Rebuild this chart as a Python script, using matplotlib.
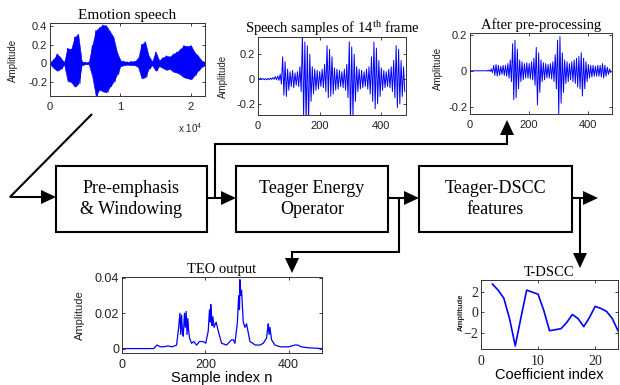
import matplotlib
matplotlib.use("Agg")
import matplotlib.pyplot as plt
from matplotlib.patches import Rectangle
import numpy as np

plt.rcParams.update({
    "font.family": "Liberation Sans",
    "mathtext.default": "regular",
})

# ─── Data ────────────────────────────────────────────────────────────────────

# Emotion speech: envelope every 500 samples
speech_n = np.arange(0, 22001, 500)
speech_up = [0.01, 0.04, 0.10, 0.06, 0.01, 0.16, 0.15, 0.28, 0.31, 0.02,
             0.01, 0.01, 0.19, 0.35, 0.38, 0.41, 0.40, 0.34, 0.28, 0.12,
             0.03, 0.02, 0.015, 0.02, 0.02, 0.05, 0.20, 0.23, 0.08, 0.02,
             0.12, 0.03, 0.06, 0.08, 0.07, 0.10, 0.12, 0.15, 0.19, 0.18,
             0.19, 0.12, 0.08, 0.03, 0.01]
speech_lo = [-0.01, -0.05, -0.08, -0.06, -0.01, -0.19, -0.20, -0.25, -0.22, -0.02,
             -0.01, -0.01, -0.14, -0.35, -0.28, -0.30, -0.31, -0.25, -0.20, -0.12,
             -0.03, -0.02, -0.015, -0.02, -0.02, -0.04, -0.16, -0.15, -0.06, -0.02,
             -0.08, -0.03, -0.05, -0.07, -0.06, -0.09, -0.10, -0.12, -0.15, -0.16,
             -0.17, -0.13, -0.08, -0.04, -0.02]

# 14th frame, raw and pre-processed: envelope every 8 samples (480 samples)
frame_n = np.arange(0, 480, 8)
frame_up = [0.006, 0.008, 0.005, 0.004, 0.006, 0.008, 0.012, 0.02,
            0.025, 0.04, 0.18, 0.14, 0.08, 0.06, 0.07, 0.05, 0.06, 0.10,
            0.36, 0.30, 0.27, 0.20, 0.10, 0.08, 0.07, 0.06, 0.08, 0.12,
            0.27, 0.24, 0.18, 0.09, 0.08, 0.07, 0.06, 0.08, 0.12, 0.30,
            0.26, 0.20, 0.10, 0.08, 0.07, 0.06, 0.08, 0.10, 0.18, 0.30,
            0.25, 0.15, 0.09, 0.07, 0.06, 0.08, 0.10, 0.15, 0.27, 0.24,
            0.15, 0.10]
frame_lo = [-0.004, -0.003, -0.005, -0.006, -0.004, -0.003, -0.002, -0.005,
            -0.01, -0.04, -0.13, -0.14, -0.09, -0.06, -0.07, -0.05, -0.06, -0.10,
            -0.30, -0.35, -0.35, -0.18, -0.12, -0.09, -0.08, -0.06, -0.07, -0.10,
            -0.15, -0.14, -0.12, -0.09, -0.08, -0.06, -0.07, -0.09, -0.15, -0.35,
            -0.30, -0.18, -0.10, -0.08, -0.07, -0.06, -0.08, -0.12, -0.18, -0.24,
            -0.20, -0.14, -0.09, -0.07, -0.06, -0.07, -0.10, -0.15, -0.23, -0.20,
            -0.14, -0.10]

pre_up = [0, 0, 0, 0, 0, 0, 0, 0.002, 0.004, 0.01,
          0.03, 0.035, 0.03, 0.025, 0.03, 0.03, 0.04, 0.06, 0.15, 0.17,
          0.12, 0.06, 0.05, 0.04, 0.045, 0.04, 0.05, 0.07, 0.13, 0.10,
          0.06, 0.045, 0.04, 0.035, 0.04, 0.05, 0.09, 0.17, 0.19, 0.10,
          0.06, 0.05, 0.04, 0.05, 0.06, 0.07, 0.08, 0.10, 0.07, 0.05,
          0.035, 0.03, 0.03, 0.025, 0.03, 0.03, 0.04, 0.03, 0.02, 0.01]
pre_lo = [0, 0, 0, 0, 0, 0, 0, -0.002, -0.004, -0.01,
          -0.025, -0.03, -0.025, -0.02, -0.025, -0.03, -0.04, -0.06, -0.16, -0.15,
          -0.10, -0.06, -0.05, -0.04, -0.04, -0.045, -0.05, -0.08, -0.19, -0.12,
          -0.06, -0.05, -0.04, -0.04, -0.045, -0.06, -0.10, -0.24, -0.18, -0.12,
          -0.07, -0.06, -0.05, -0.06, -0.07, -0.09, -0.10, -0.14, -0.10, -0.06,
          -0.04, -0.035, -0.03, -0.03, -0.03, -0.035, -0.04, -0.03, -0.02, -0.01]

# TEO output
teo_n = [0, 76, 84, 92, 100, 110, 120, 131, 136, 139, 141, 143, 145, 147,
         150, 152, 154, 156, 158, 160, 162, 167, 172, 179, 186, 195, 201,
         207, 210, 212, 213, 215, 216, 218, 221, 224, 226, 231, 239, 251,
         263, 267, 271, 277, 280, 282, 283, 285, 287, 291, 295, 299, 307,
         320, 331, 339, 347, 350, 351, 353, 355, 359, 367, 380, 400, 415,
         422, 430, 445, 480]
teo_v = [0, 0, 0.002, 0.001, 0.001, 0.0015, 0.001, 0.002, 0.012, 0.020,
         0.008, 0.019, 0.010, 0.007, 0.020, 0.012, 0.021, 0.008, 0.017, 0.010,
         0.006, 0.003, 0.004, 0.002, 0.004, 0.004, 0.003, 0.010, 0.022, 0.015,
         0.025, 0.018, 0.013, 0.018, 0.012, 0.014, 0.015, 0.010, 0.003, 0.002,
         0.005, 0.005, 0.003, 0.015, 0.030, 0.022, 0.039, 0.030, 0.033, 0.015,
         0.012, 0.014, 0.004, 0.002, 0.002, 0.003, 0.006, 0.012, 0.014, 0.008,
         0.012, 0.005, 0.002, 0.001, 0.001, 0.002, 0.002, 0.001, 0.0005, 0]

# T-DSCC coefficients
coef_idx = list(range(2, 25))
coef_val = [2.8, 2.2, 1.4, -0.6, -3.3, -0.5, 2.2, 2.0, 1.8, 0.2, -1.8, -1.7,
            -1.6, -1.0, -0.2, -0.6, -1.4, -0.5, 0.6, 0.4, 0.1, -0.6, -1.8]

# ─── Layout ──────────────────────────────────────────────────────────────────

W, H = 620, 385
BLUE = "#0000ff"
SERIF = "Liberation Serif"

fig = plt.figure(figsize=(W / 100, H / 100), dpi=100)
ov = fig.add_axes([0, 0, 1, 1])
ov.set_xlim(0, W)
ov.set_ylim(H, 0)
ov.axis("off")


def panel(l, t, r, b, labelsize=8):
    ax = fig.add_axes([l / W, 1 - b / H, (r - l) / W, (b - t) / H])
    ax.tick_params(direction="in", top=True, right=True, length=2.5,
                   width=0.6, labelsize=labelsize, pad=2, colors="#222222")
    ax.tick_params(axis="x", pad=4)
    for s in ax.spines.values():
        s.set_linewidth(0.7)
        s.set_color("#333333")
    return ax


def zigzag(x, up, lo, step):
    xs = np.column_stack([x, np.asarray(x) + step / 2]).ravel()
    ys = np.column_stack([up, lo]).ravel()
    return xs, ys


def head(tip, d, L=15, Wd=14):
    x, y = tip
    if d == "right":
        pts = [(x, y), (x - L, y - Wd / 2), (x - L, y + Wd / 2)]
    elif d == "up":
        pts = [(x, y), (x - Wd / 2, y + L), (x + Wd / 2, y + L)]
    else:
        pts = [(x, y), (x - Wd / 2, y - L), (x + Wd / 2, y - L)]
    ov.fill(*zip(*pts), color="k", lw=0)


def line(xs, ys):
    ov.plot(xs, ys, color="k", lw=1.5, solid_capstyle="butt",
            solid_joinstyle="miter")


# Panel 1: emotion speech
ax1 = panel(50, 23, 205, 96)
ax1.fill_between(speech_n, speech_lo, speech_up, color=BLUE, lw=0.4)
xs, ys = zigzag(speech_n, speech_up, speech_lo, 500)
ax1.plot(xs, ys, color=BLUE, lw=0.6)
ax1.set_xlim(0, 22000)
ax1.set_ylim(-0.35, 0.43)
ax1.set_xticks([0, 10000, 20000], ["0", "1", "2"])
ax1.set_yticks([-0.2, 0, 0.2, 0.4], ["-0.2", "0", "0.2", "0.4"])
ax1.set_title("Emotion speech", family=SERIF, fontsize=11, pad=3)
ov.text(190, 128, "x 10$^4$", fontsize=7, ha="center", va="center",
        color="#222222")

# Panel 2: 14th frame
ax2 = panel(258, 37, 406, 115)
xs, ys = zigzag(frame_n, frame_up, frame_lo, 8)
ax2.plot(xs, ys, color=BLUE, lw=0.7)
ax2.set_xlim(0, 480)
ax2.set_ylim(-0.29, 0.34)
ax2.set_xticks([0, 200, 400])
ax2.set_yticks([-0.2, 0, 0.2], ["-0.2", "0", "0.2"])
ax2.set_title("Speech samples of 14$^{th}$ frame", family=SERIF,
              fontsize=10.5, pad=3)

# Panel 3: after pre-processing
ax3 = panel(470, 33, 612, 114)
xs, ys = zigzag(frame_n, pre_up, pre_lo, 8)
ax3.plot(xs, ys, color=BLUE, lw=0.7)
ax3.set_xlim(0, 480)
ax3.set_ylim(-0.24, 0.21)
ax3.set_xticks([0, 200, 400])
ax3.set_yticks([-0.2, 0, 0.2], ["-0.2", "0", "0.2"])
ax3.set_title("After pre-processing", family=SERIF, fontsize=10.5, pad=3)

# Panel 4: TEO output
ax4 = panel(122, 277, 322, 353, labelsize=9)
ax4.plot(teo_n, teo_v, color=BLUE, lw=0.9)
ax4.set_xlim(0, 480)
ax4.set_ylim(-0.0025, 0.0405)
ax4.set_xticks([0, 200, 400])
ax4.set_yticks([0, 0.02, 0.04], ["0", "0.02", "0.04"])
ax4.set_title("TEO output", family=SERIF, fontsize=10.5, pad=3)
ax4.set_xlabel("Sample index n", fontsize=10.5, labelpad=0)

# Panel 5: T-DSCC
ax5 = panel(481, 280, 618, 349, labelsize=10)
ax5.plot(coef_idx, coef_val, color=BLUE, lw=1.2)
ax5.set_xlim(0, 24)
ax5.set_ylim(-3.6, 3.2)
ax5.set_xticks([0, 10, 20])
ax5.set_yticks([-2, 0, 2])
for t in ax5.get_xticklabels() + ax5.get_yticklabels():
    t.set_family(SERIF)
ax5.set_title("T-DSCC", family=SERIF, fontsize=10.5, pad=3)
ax5.set_xlabel("Coefficient index", fontsize=10.5, labelpad=0)

# Amplitude labels
for x, y, fs, fw in [(13, 60, 7, "normal"), (223, 76, 7, "normal"),
                     (438, 68, 7, "normal"), (80, 315, 8, "normal"),
                     (461, 312, 5.5, "bold")]:
    ov.text(x, y, "Amplitude", rotation=90, fontsize=fs, fontweight=fw,
            ha="center", va="center", color="#222222")

# ─── Block diagram ───────────────────────────────────────────────────────────

boxes = [(56, 166, 207, 232, "Pre-emphasis\n& Windowing"),
         (236, 166, 388, 232, "Teager Energy\nOperator"),
         (419, 166, 572, 232, "Teager-DSCC\nfeatures")]
for l, t, r, b, txt in boxes:
    ov.add_patch(Rectangle((l, t), r - l, b - t, fill=False, ec="k", lw=1.5))
    ov.text((l + r) / 2, (t + b) / 2, txt, family=SERIF, fontsize=13,
            ha="center", va="center", linespacing=1.25)

line([92, 10, 44], [114, 197, 197])
head((56, 197), "right")
line([207, 224], [198, 198])
head((236, 198), "right")
line([215, 215, 507, 507], [198, 144, 144, 134])
head((507, 120), "up")
line([388, 407], [198, 198])
head((419, 198), "right")
line([399, 399, 292, 292], [198, 252, 252, 259])
head((292, 273), "down")
line([572, 586], [198, 198])
head((598, 198), "right")
line([580, 580], [198, 254])
head((580, 268), "down")

fig.savefig("out.png", dpi=100)
